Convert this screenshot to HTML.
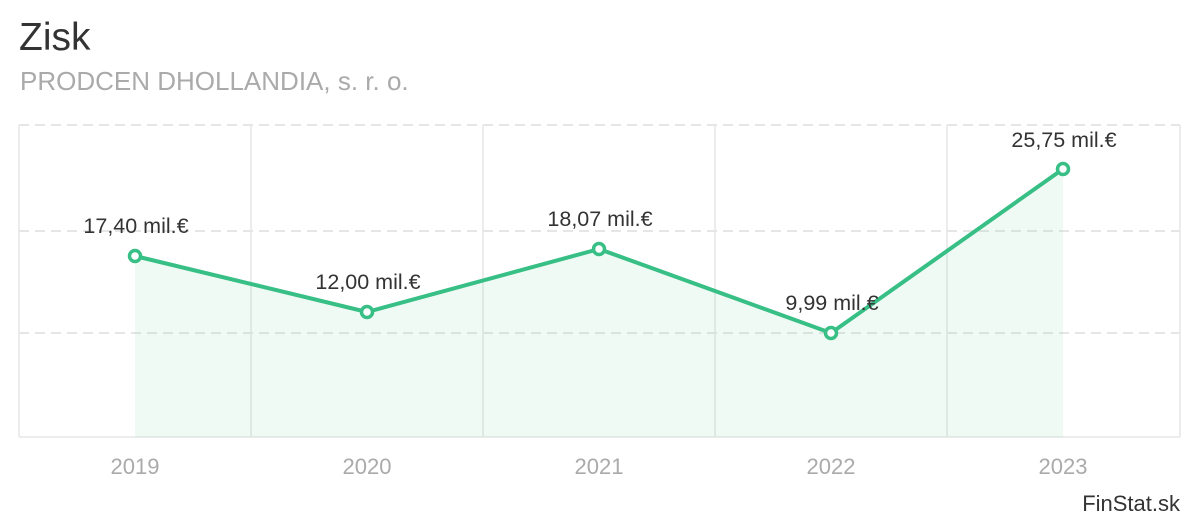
<!DOCTYPE html>
<html><head><meta charset="utf-8"><style>
html,body{margin:0;padding:0;background:#fff;width:1200px;height:520px;overflow:hidden}
svg{display:block}
text{font-family:"Liberation Sans",Arial,sans-serif}
</style></head><body>
<svg width="1200" height="520" viewBox="0 0 1200 520" xmlns="http://www.w3.org/2000/svg">
<text x="19" y="50" font-size="39" fill="#333">Zisk</text>
<text x="20" y="90" font-size="26" fill="#aaa">PRODCEN DHOLLANDIA, s. r. o.</text>
<g stroke="#e6e6e6" stroke-width="2" stroke-dasharray="10,6">
<line x1="19" y1="125" x2="1180" y2="125"/>
<line x1="19" y1="231" x2="1180" y2="231"/>
<line x1="19" y1="333" x2="1180" y2="333"/>
</g>
<g stroke="#e6e6e6" stroke-width="1.5">
<line x1="19" y1="125" x2="19" y2="437"/>
<line x1="251" y1="125" x2="251" y2="437"/>
<line x1="483" y1="125" x2="483" y2="437"/>
<line x1="715" y1="125" x2="715" y2="437"/>
<line x1="947" y1="125" x2="947" y2="437"/>
<line x1="1180" y1="125" x2="1180" y2="437"/>
<line x1="19" y1="437" x2="1180" y2="437"/>
</g>
<polygon points="135,256 367,312 599,249 831,333 1063,169 1063,437 135,437" fill="#3cbf85" fill-opacity="0.08"/>
<polyline points="135,256 367,312 599,249 831,333 1063,169" fill="none" stroke="#37bf86" stroke-width="4" stroke-linejoin="round"/>
<g fill="#fff" stroke="#37bf86" stroke-width="3.5">
<circle cx="135" cy="256" r="5.5"/><circle cx="367" cy="312" r="5.5"/><circle cx="599" cy="249" r="5.5"/><circle cx="831" cy="333" r="5.5"/><circle cx="1063" cy="169" r="5.5"/>
</g>
<g font-size="21.5" fill="#333" text-anchor="middle">
<text x="136" y="233">17,40 mil.€</text>
<text x="368" y="289">12,00 mil.€</text>
<text x="600" y="226">18,07 mil.€</text>
<text x="832" y="310">9,99 mil.€</text>
<text x="1064" y="147">25,75 mil.€</text>
</g>
<g font-size="22" fill="#aaa" text-anchor="middle">
<text x="135" y="474">2019</text><text x="367" y="474">2020</text><text x="599" y="474">2021</text><text x="831" y="474">2022</text><text x="1063" y="474">2023</text>
</g>
<text x="1180" y="511" font-size="22" fill="#333" text-anchor="end">FinStat.sk</text>
</svg>
</body></html>
